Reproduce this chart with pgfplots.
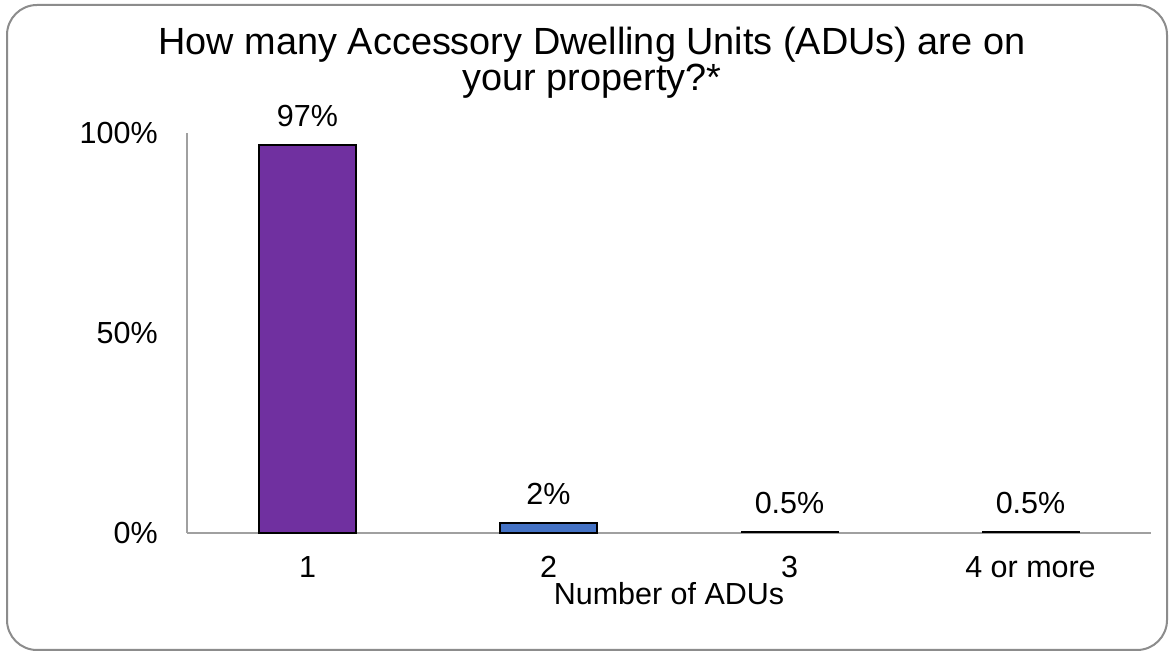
\documentclass[border=0pt]{standalone}
\usepackage{pgfplots}
\pgfplotsset{compat=1.18}
\usepackage{fontspec}
\setmainfont{Liberation Sans}
\definecolor{barpurple}{HTML}{7030A0}
\definecolor{barblue}{HTML}{4472C4}
\definecolor{axgray}{HTML}{A0A0A0}
\definecolor{framegray}{HTML}{8C8C8C}
\newcommand\lblfont{\fontsize{30.6}{36}\selectfont}
\newcommand\ttlfont{\fontsize{38}{43}\selectfont}
\begin{document}
\begin{tikzpicture}
\useasboundingbox (0bp,0bp) rectangle (1173bp,652bp);
\fill[white] (0bp,0bp) rectangle (1173bp,652bp);
\draw[framegray, line width=2bp, rounded corners=30bp] (7bp,2bp) rectangle (1167bp,647bp);
\node[anchor=base, inner sep=0pt] at (592bp,597bp) {\ttlfont How many Accessory Dwelling Units (ADUs) are on};
\node[anchor=base, inner sep=0pt] at (592bp,561bp) {\ttlfont your property?*};
\begin{axis}[
  at={(187bp,119bp)}, anchor=south west,
  scale only axis, width=964bp, height=400bp,
  xmin=-0.5, xmax=3.5, ymin=0, ymax=1,
  axis x line=bottom, axis y line=left,
  axis line style={-, axgray, line width=1.5bp},
  tick style={draw=none},
  xtick={0,1,2,3}, xticklabels={1,2,3,4 or more},
  ytick={0,0.5,1}, yticklabels={0\%,50\%,100\%},
  xticklabel style={font=\lblfont, inner sep=0pt, anchor=base, yshift=-40bp},
  yticklabel style={font=\lblfont, inner sep=0pt, anchor=east, xshift=-27bp},
  xlabel={Number of ADUs},
  xlabel style={font=\lblfont, inner sep=0pt, anchor=base, at={(axis description cs:0.5,0)}, yshift=-71bp},
  ybar, bar width=97bp, bar shift=0pt,
  clip=false,
  point meta=explicit symbolic,
  nodes near coords,
  nodes near coords style={font=\lblfont, inner sep=0pt, anchor=base, yshift=18bp},
]
\addplot[fill=barpurple, draw=black, line width=1.5bp] coordinates {(0,0.97) [97\%]};
\addplot[fill=barblue, draw=black, line width=1.5bp] coordinates {(1,0.025) [2\%]};
\addplot[fill=white, draw=black, line width=1bp] coordinates {(2,0.004) [0.5\%] (3,0.004) [0.5\%]};
\end{axis}
\end{tikzpicture}
\end{document}
